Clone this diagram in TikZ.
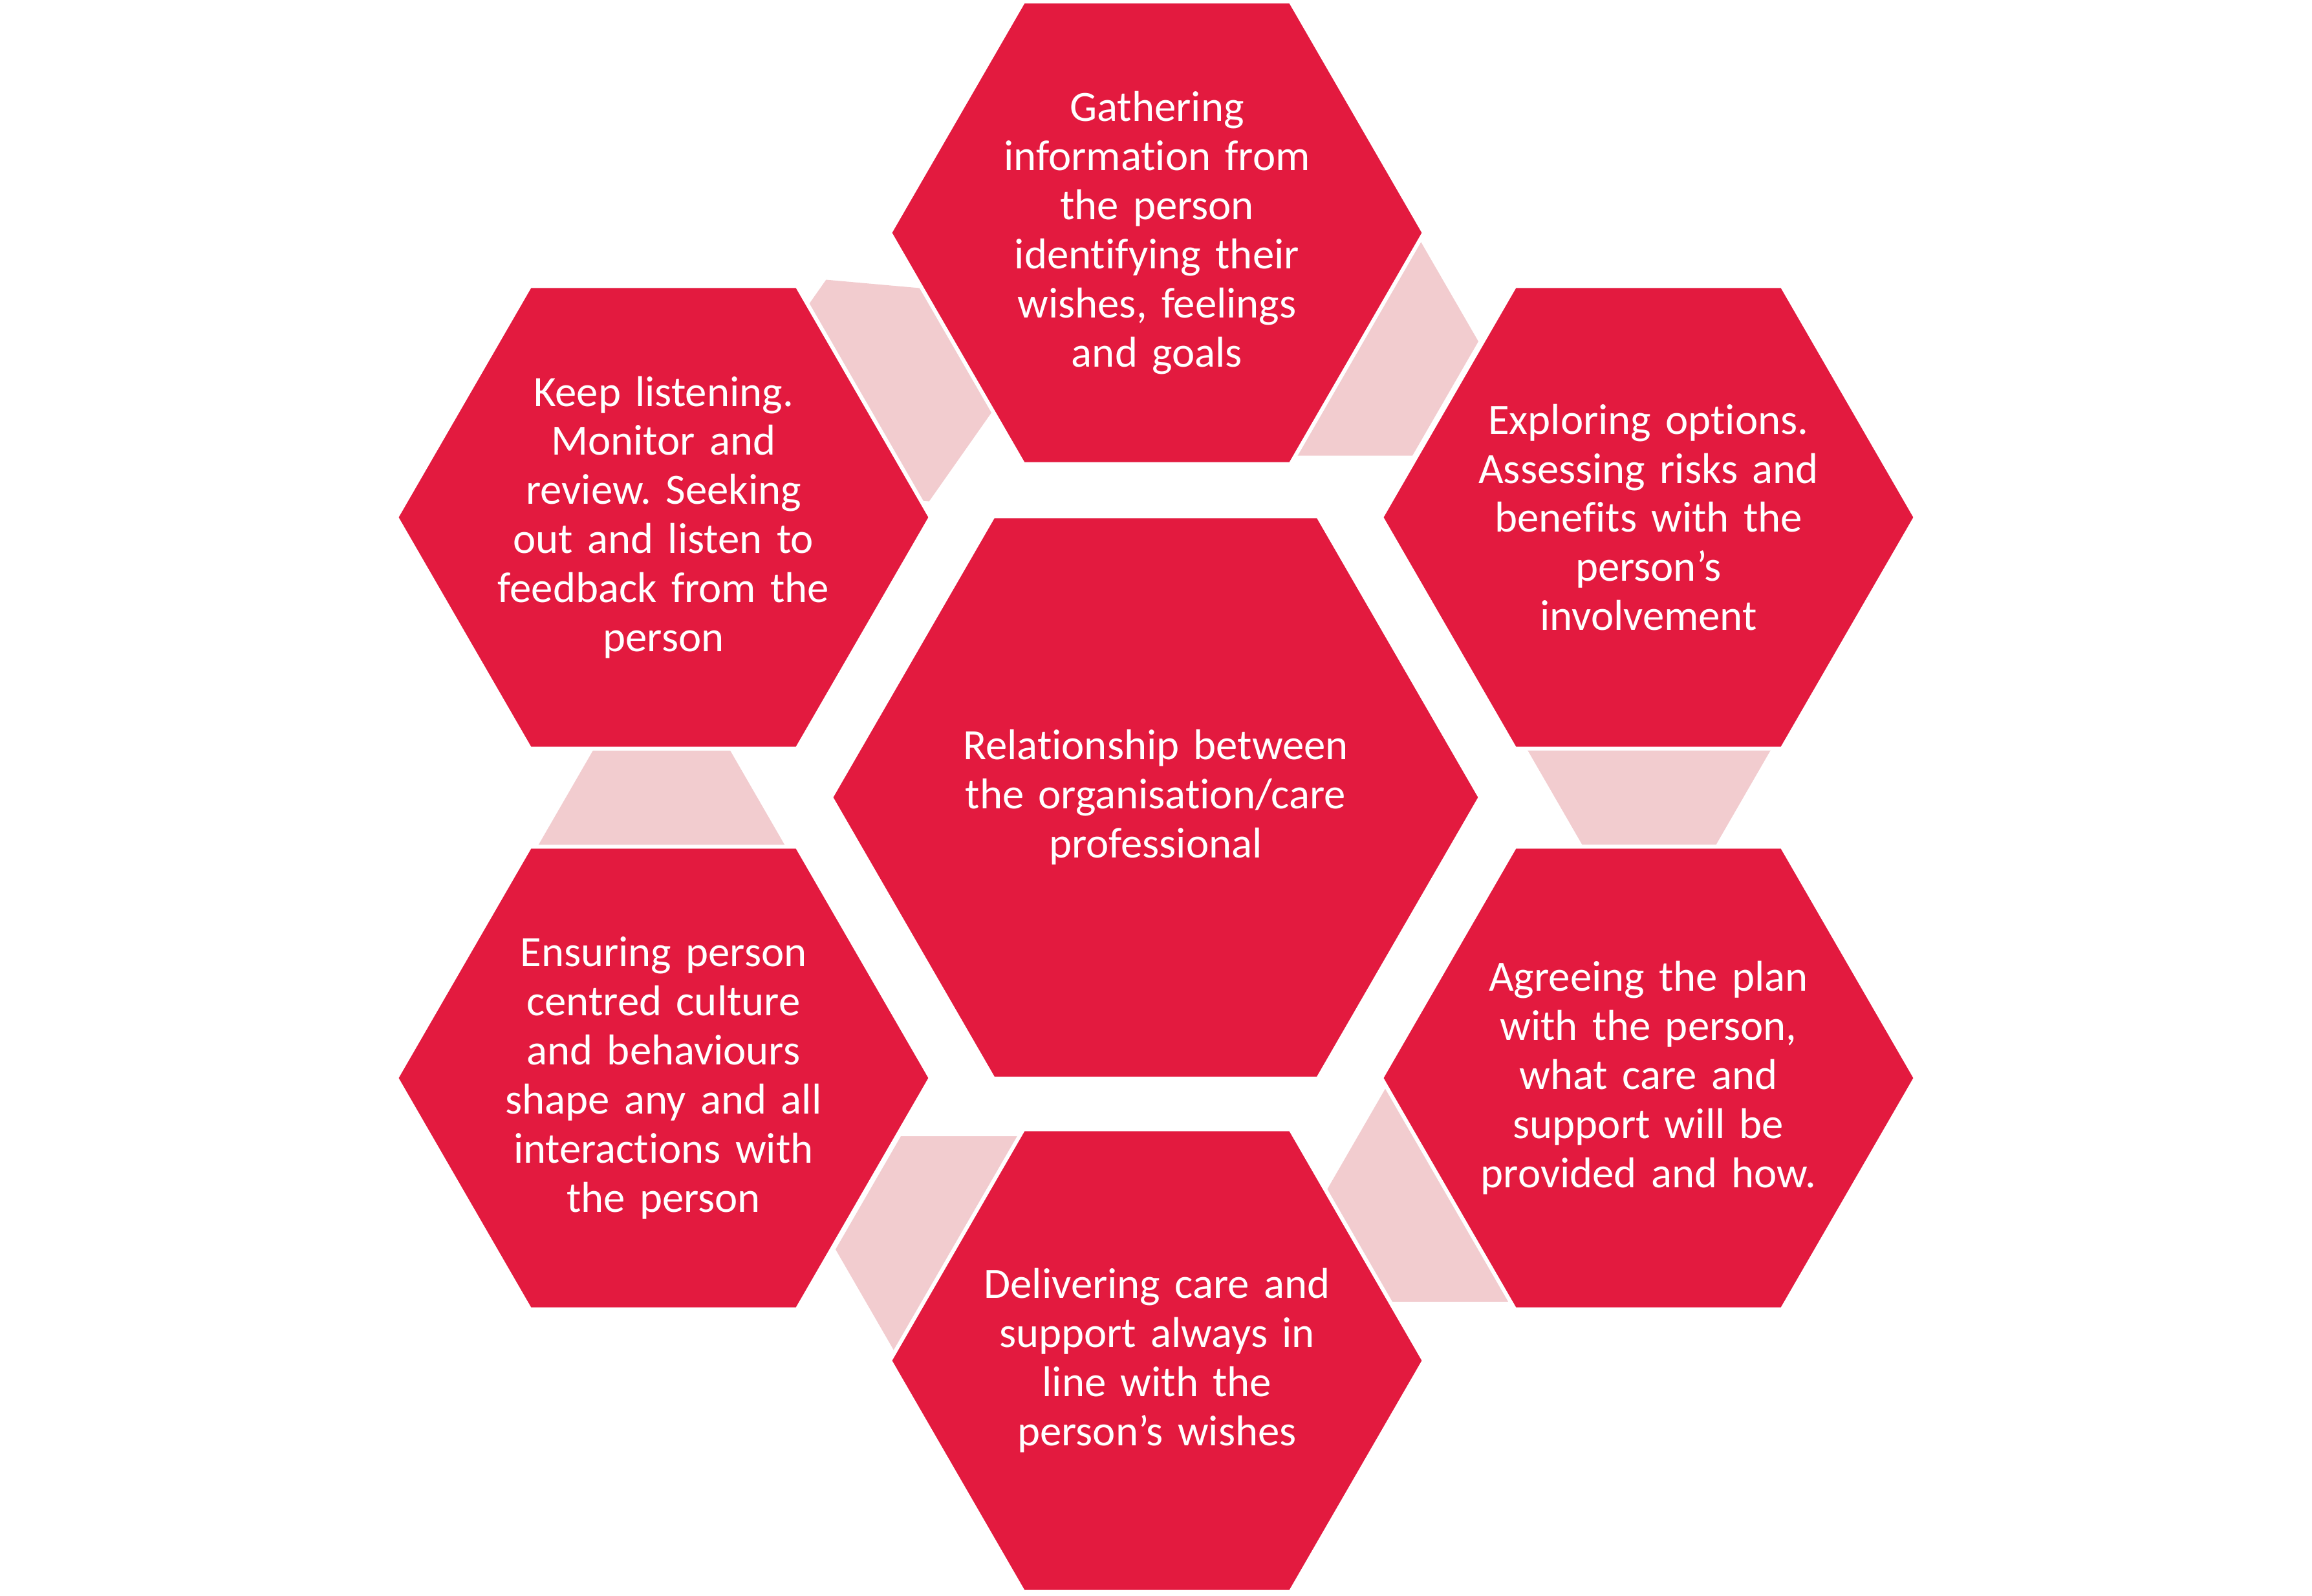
\documentclass[tikz,border=0pt]{standalone}
\usepackage{fontspec}
\setmainfont{Carlito}[Ligatures=NoCommon]
\usepackage{tikz}
\usetikzlibrary{shapes.geometric}
\definecolor{careRed}{RGB}{227, 26, 63}
\definecolor{carePink}{RGB}{242, 204, 207}
\frenchspacing

\begin{document}
\begin{tikzpicture}[
  hexa/.style={regular polygon, regular polygon sides=6, inner sep=0pt},
  cell/.style={hexa, minimum size=8.26cm, fill=careRed, draw=white, line width=0.06cm},
  hub/.style={cell, minimum size=10.04cm},
  link/.style={hexa, fill=carePink},
  note/.style={text=white, text width=6.2cm, align=center, inner sep=0pt,
    font=\fontsize{19}{21.6}\selectfont}
]
  \useasboundingbox (-17.87,-12.34) rectangle (17.88,12.33);

  % pale hexagons behind the ring
  \node[link, minimum size=3.78cm, shape border rotate=-5.1] (liga) at (-4.30, 6.29) {};
  \node[link, minimum size=4.08cm] (gaex) at (2.95, 7.05) {};
  \node[link, minimum size=4.14cm] (exag) at (7.63, 1.06) {};
  \node[link, minimum size=3.92cm] (agde) at (4.59, -6.10) {};
  \node[link, minimum size=4.04cm] (decu) at (-2.93, -6.99) {};
  \node[link, minimum size=4.24cm] (culi) at (-7.64, -1.11) {};

  % centre
  \node[hub] (rel) at (0, 0) {};
  \node[note, text width=7cm] (rel-t) at (rel) {Relationship between\\the organisation/care\\professional};

  % ring of steps
  \node[cell] (gather) at (0.02, 8.73) {};
  \node[cell] (explore) at (7.62, 4.33) {};
  \node[cell] (agree) at (7.62, -4.34) {};
  \node[cell] (deliver) at (0.02, -8.71) {};
  \node[cell] (culture) at (-7.61, -4.34) {};
  \node[cell] (listen) at (-7.61, 4.33) {};

  \node[note] (gather-t) at (gather) {Gathering\\information from\\the person\\identifying their\\wishes, feelings\\and goals};
  \node[note] (explore-t) at (explore) {Exploring options.\\Assessing risks and\\benefits with the\\person’s\\involvement};
  \node[note] (agree-t) at (agree) {Agreeing the plan\\with the person,\\what care and\\support will be\\provided and how.};
  \node[note] (deliver-t) at (deliver) {Delivering care and\\support always in\\line with the\\person’s wishes};
  \node[note] (culture-t) at (culture) {Ensuring person\\centred culture\\and behaviours\\shape any and all\\interactions with\\the person};
  \node[note] (listen-t) at (listen) {Keep listening.\\Monitor and\\review. Seeking\\out and listen to\\feedback from the\\person};

\end{tikzpicture}
\end{document}
